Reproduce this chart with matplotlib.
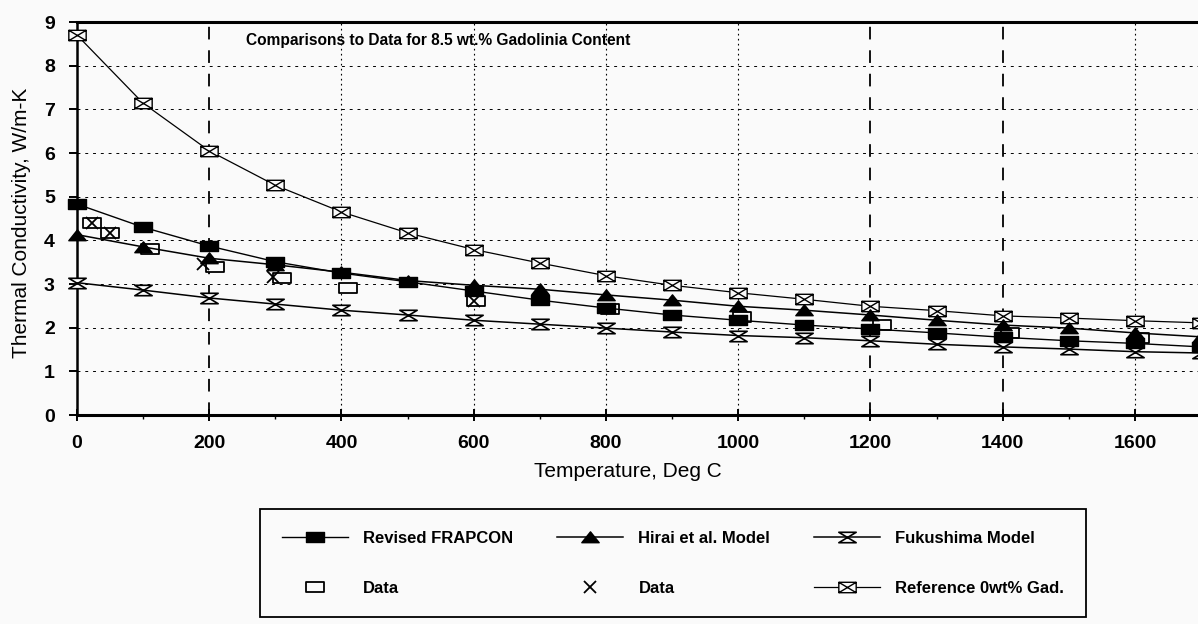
import matplotlib
matplotlib.use('Agg')
import matplotlib.pyplot as plt
from matplotlib.path import Path
from matplotlib.ticker import MultipleLocator
from matplotlib import font_manager as fm

# ---------------- data ----------------
temps = [0, 100, 200, 300, 400, 500, 600, 700, 800, 900, 1000, 1100, 1200, 1300, 1400, 1500, 1600, 1700]
revised_frapcon = [4.83, 4.30, 3.87, 3.51, 3.25, 3.05, 2.84, 2.63, 2.45, 2.29, 2.17, 2.06, 1.97, 1.88, 1.78, 1.70, 1.64, 1.56]
hirai_model = [4.13, 3.85, 3.59, 3.44, 3.27, 3.08, 2.97, 2.88, 2.75, 2.63, 2.49, 2.40, 2.29, 2.17, 2.06, 1.99, 1.88, 1.79]
fukushima_model = [3.03, 2.86, 2.68, 2.54, 2.40, 2.29, 2.17, 2.08, 1.99, 1.90, 1.82, 1.77, 1.70, 1.62, 1.56, 1.51, 1.45, 1.42]
reference_0wt = [8.70, 7.14, 6.05, 5.26, 4.65, 4.17, 3.79, 3.48, 3.19, 2.97, 2.80, 2.65, 2.49, 2.39, 2.27, 2.22, 2.16, 2.11]

data_sq_t = [22, 50, 111, 209, 310, 410, 604, 806, 1006, 1217, 1411, 1608]
data_sq_k = [4.40, 4.16, 3.80, 3.39, 3.13, 2.90, 2.62, 2.42, 2.24, 2.06, 1.87, 1.76]
data_x_t = [22, 50, 190, 297, 600]
data_x_k = [4.40, 4.16, 3.45, 3.15, 2.62]

x_ticks = [0, 200, 400, 600, 800, 1000, 1200, 1400, 1600]
y_ticks = [0, 1, 2, 3, 4, 5, 6, 7, 8, 9]

title = 'Comparisons to Data for 8.5 wt.% Gadolinia Content'
labels = ['Revised FRAPCON', 'Hirai et al. Model', 'Fukushima Model',
          'Data', 'Data', 'Reference 0wt% Gad.']

# ---------------- style ----------------
plt.rcParams['font.family'] = ['Liberation Sans', 'DejaVu Sans']
names = {f.name for f in fm.fontManager.ttflist}
legend_family = ['Liberation Sans Narrow', 'Liberation Sans'] if 'Liberation Sans Narrow' in names else ['Liberation Sans']

BG = '#fafafa'
W, H = 1198, 624
fig = plt.figure(figsize=(W / 100, H / 100), dpi=100, facecolor=BG)
ax = fig.add_axes([77 / W, 209 / H, 1124 / W, 393 / H])
ax.set_facecolor(BG)

M, L, C = Path.MOVETO, Path.LINETO, Path.CLOSEPOLY
rect = Path([(-1, -0.6), (1, -0.6), (1, 0.6), (-1, 0.6), (-1, -0.6)], [M, L, L, L, C])
boxx = Path([(-1, -0.6), (1, -0.6), (1, 0.6), (-1, 0.6), (-1, -0.6),
             (-1, -0.6), (1, 0.6), (-1, 0.6), (1, -0.6)],
            [M, L, L, L, C, M, L, M, L])
hourglass = Path([(-1, 0.6), (1, 0.6), (-1, -0.6), (1, -0.6), (-1, 0.6)], [M, L, L, L, C])
tri = Path([(-1, -0.6), (1, -0.6), (0, 0.65), (-1, -0.6)], [M, L, L, C])

ax.set_xlim(0, 1700)
ax.set_ylim(0, 9)

# grid
for t in y_ticks[1:-1]:
    ax.axhline(t, color='k', lw=0.7, dashes=(3, 5), zorder=1)
bold_v = {200, 1200, 1400}
for t in x_ticks[1:]:
    if t in bold_v:
        ax.axvline(t, color='k', lw=1.3, dashes=(7, 6), zorder=1)
    else:
        ax.axvline(t, color='k', lw=0.8, dashes=(1.5, 3), zorder=1)

common = dict(clip_on=False, color='k', mec='k')
h_ref, = ax.plot(temps, reference_0wt, lw=0.9, marker=boxx, ms=12.5, mfc=BG, mew=1.0, zorder=3, **common)
h_fuk, = ax.plot(temps, fukushima_model, lw=1.1, marker=hourglass, ms=12.5, mfc=BG, mew=1.2, zorder=3, **common)
h_dsq, = ax.plot(data_sq_t, data_sq_k, ls='none', marker=rect, ms=12.5, mfc=BG, mew=1.3, zorder=3, **common)
h_dx, = ax.plot(data_x_t, data_x_k, ls='none', marker='x', ms=8.5, mew=1.3, zorder=4, **common)
h_hir, = ax.plot(temps, hirai_model, lw=1.1, marker=tri, ms=12.5, mfc='k', zorder=5, **common)
h_fra, = ax.plot(temps, revised_frapcon, lw=1.0, marker=rect, ms=12.5, mfc='k', zorder=5, **common)

# spines & ticks
ax.spines['right'].set_visible(False)
ax.spines['top'].set_linewidth(2.2)
ax.spines['bottom'].set_linewidth(2.2)
ax.spines['left'].set_linewidth(1.8)
ax.set_xticks(x_ticks)
ax.set_yticks(y_ticks)
ax.xaxis.set_minor_locator(MultipleLocator(100))
ax.tick_params(axis='x', which='major', direction='inout', length=9, width=1.4, pad=10,
               labelsize=14)
ax.tick_params(axis='x', which='minor', direction='out', length=3, width=1.0)
ax.tick_params(axis='y', which='major', direction='out', length=6, width=1.4, pad=10,
               labelsize=14)
for lab in ax.get_xticklabels() + ax.get_yticklabels():
    lab.set_fontweight('bold')

ax.set_xlabel('Temperature, Deg C', fontsize=15)
ax.xaxis.set_label_coords((628 - 77) / 1124, (415 - 462) / 393)
ax.set_ylabel('Thermal Conductivity, W/m-K', fontsize=15)
ax.yaxis.set_label_coords((31 - 77) / 1124, (415 - 223) / 393)

fig.text(246 / W, 1 - 40 / H, title, fontsize=11.2, fontweight='bold', va='center', ha='left')

handles = [h_fra, h_dsq, h_hir, h_dx, h_fuk, h_ref]
leg_labels = [labels[0], labels[3], labels[1], labels[4], labels[2], labels[5]]
leg = fig.legend(handles, leg_labels, ncol=3, loc='upper left',
                 bbox_to_anchor=(260 / W, 1 - 509 / H), bbox_transform=fig.transFigure,
                 frameon=True, fancybox=False, edgecolor='k', facecolor=BG, framealpha=1,
                 borderpad=1.3, handlelength=4.0, handletextpad=0.9, columnspacing=2.6,
                 labelspacing=2.1, borderaxespad=0,
                 prop={'family': legend_family, 'weight': 'bold', 'size': 12})
leg.get_frame().set_linewidth(1.3)

fig.savefig('out.png', dpi=100, facecolor=BG)
